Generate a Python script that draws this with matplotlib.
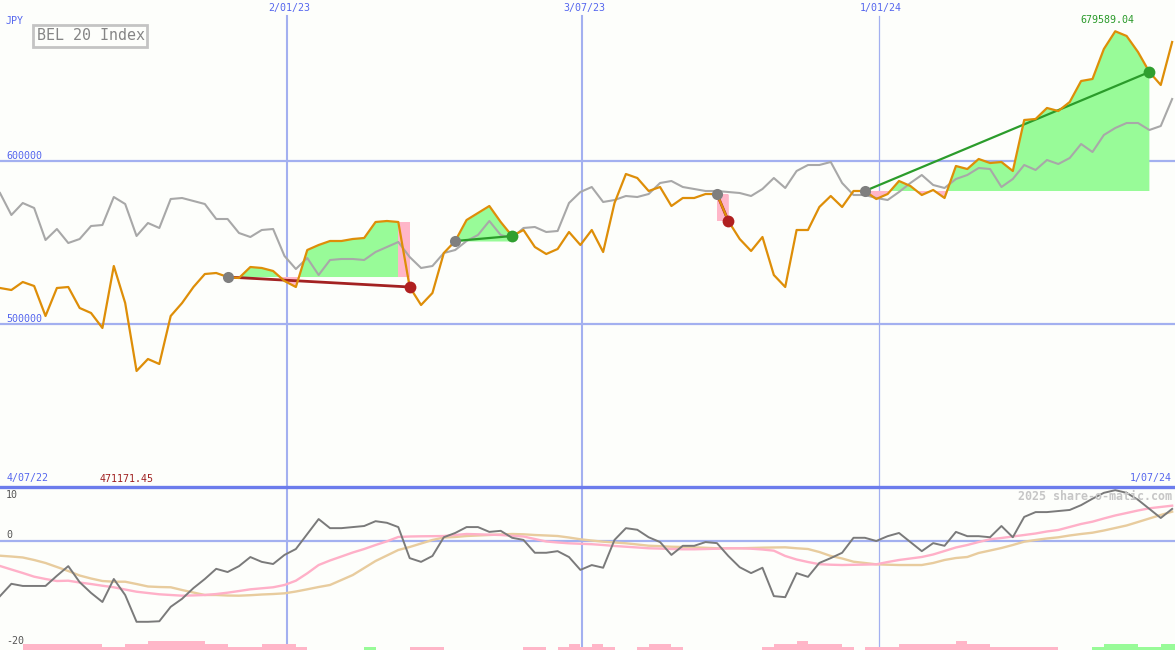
import matplotlib
matplotlib.use('Agg')
import matplotlib.pyplot as plt
from matplotlib.patches import Rectangle
import numpy as np

# ---------------- data ----------------
title = 'BEL 20 Index'
currency = 'JPY'
start_label, end_label = '4/07/22', '1/07/24'
date_labels = ['2/01/23', '3/07/23', '1/01/24']
date_pos = [25.22, 51.14, 77.24]          # week index of the date lines
price_ticks = [600000, 500000]
osc_ticks = [10, 0, -20]
min_label = '471171.45'
max_label = '679589.04'
credit = '2025 share-o-matic.com'

price = [522090, 520860, 525770, 523310, 504910, 522090, 522700, 509820, 506750, 497550,
         535580, 512880, 471171.45, 478530, 475460, 504910, 512880, 522700, 530670, 531290,
         528830, 528220, 534970, 534360, 532520, 526380, 522700, 545400, 548470, 550920,
         550920, 552150, 552760, 562580, 563190, 562580, 522700, 511660, 519020, 543560,
         550920, 563800, 568100, 572390, 562580, 553990, 557670, 547240, 542940, 546010,
         556440, 548470, 557670, 544170, 574230, 592020, 589570, 581600, 584050, 572390,
         577300, 577300, 579750, 579750, 563190, 552150, 544790, 553370, 530060, 522700,
         557670, 557670, 571780, 578530, 571780, 581600, 581600, 576690, 579750, 587730,
         584660, 579140, 582210, 577300, 596930, 595090, 601230, 598770, 599390, 593870,
         625150, 625770, 632520, 630680, 636200, 649080, 650310, 668710, 679589.04, 676690,
         666870, 654600, 646630, 673000]

compare = [580370, 566870, 574230, 571170, 551530, 558280, 549690, 552150, 560120, 560740,
           577910, 573620, 553990, 561960, 558900, 576690, 577300, 575460, 573620, 564420,
           564420, 555830, 553370, 557670, 558280, 541720, 533740, 540490, 530060, 539260,
           539880, 539880, 539260, 544170, 547240, 550310, 541100, 534360, 535580, 543560,
           545400, 550920, 554600, 563190, 554600, 552760, 558900, 559510, 556440, 557060,
           574230, 580980, 584050, 574850, 576070, 578530, 577910, 579750, 586500, 587730,
           584050, 582820, 581600, 581600, 580980, 580370, 578530, 582820, 589570, 583440,
           593870, 597550, 597550, 599390, 586500, 579140, 579140, 577300, 576070, 580980,
           586500, 591410, 585280, 583440, 588960, 591410, 595710, 595090, 584050, 588960,
           597550, 594480, 600610, 598160, 601840, 610430, 605520, 615950, 620250, 623310,
           623310, 619020, 621470, 638040]

osc = [-10.3, -8.0, -8.4, -8.4, -8.4, -6.5, -4.7, -7.7, -9.7, -11.4,
       -7.1, -10.1, -15.1, -15.1, -15.0, -12.3, -10.8, -8.8, -7.1, -5.2,
       -5.8, -4.7, -3.0, -3.9, -4.3, -2.6, -1.5, 1.3, 4.1, 2.4,
       2.4, 2.6, 2.8, 3.7, 3.4, 2.6, -3.2, -3.9, -2.8, 0.7,
       1.5, 2.6, 2.6, 1.7, 1.9, 0.6, 0.2, -2.2, -2.2, -1.9,
       -3.0, -5.4, -4.5, -5.0, 0.2, 2.4, 2.1, 0.7, -0.2, -2.6,
       -0.9, -0.9, -0.2, -0.4, -2.8, -4.9, -6.0, -5.0, -10.3, -10.5,
       -6.0, -6.7, -4.1, -3.2, -2.2, 0.6, 0.6, 0.0, 0.9, 1.5,
       -0.2, -1.9, -0.4, -0.9, 1.7, 0.9, 0.9, 0.7, 2.8, 0.7,
       4.5, 5.4, 5.4, 5.6, 5.8, 6.7, 7.9, 9.0, 9.5, 9.0,
       7.7, 6.0, 4.3, 6.0]

osc_fast = [-4.67, -5.33, -5.98, -6.67, -7.10, -7.48, -7.42, -7.76, -8.04, -8.36,
            -8.65, -9.07, -9.48, -9.72, -9.96, -10.09, -10.22, -10.17, -10.09, -9.91,
            -9.66, -9.35, -9.03, -8.84, -8.65, -8.22, -7.42, -6.04, -4.49, -3.64,
            -2.90, -2.15, -1.50, -0.75, -0.06, 0.75, 0.84, 0.88, 0.90, 0.93,
            1.12, 1.31, 1.25, 1.18, 1.12, 0.97, 0.84, 0.37, -0.09, -0.28,
            -0.43, -0.52, -0.60, -0.75, -0.93, -1.07, -1.21, -1.36, -1.42, -1.50,
            -1.55, -1.55, -1.50, -1.44, -1.36, -1.36, -1.44, -1.59, -1.81, -2.80,
            -3.46, -3.93, -4.34, -4.43, -4.49, -4.45, -4.41, -4.36, -3.93, -3.55,
            -3.27, -2.99, -2.52, -1.87, -1.21, -0.75, -0.19, 0.32, 0.56, 0.84,
            1.12, 1.40, 1.78, 2.06, 2.62, 3.18, 3.61, 4.21, 4.77, 5.23,
            5.70, 6.11, 6.36, 6.60]

osc_slow = [-2.75, -2.90, -3.08, -3.55, -4.11, -4.86, -5.61, -6.45, -7.01, -7.48,
            -7.61, -7.61, -8.04, -8.50, -8.60, -8.65, -9.16, -9.63, -10.09, -10.09,
            -10.19, -10.22, -10.13, -10.00, -9.91, -9.78, -9.44, -9.03, -8.60, -8.22,
            -7.29, -6.36, -5.05, -3.74, -2.71, -1.68, -1.12, -0.47, 0.19, 0.65,
            0.75, 0.93, 1.03, 1.12, 1.21, 1.31, 1.25, 1.12, 1.03, 0.93,
            0.65, 0.32, 0.09, -0.13, -0.28, -0.43, -0.65, -0.88, -0.97, -1.07,
            -1.12, -1.18, -1.27, -1.36, -1.36, -1.36, -1.31, -1.25, -1.21, -1.18,
            -1.36, -1.50, -2.06, -2.80, -3.27, -3.87, -4.11, -4.36, -4.43, -4.49,
            -4.49, -4.49, -4.11, -3.55, -3.18, -2.99, -2.24, -1.78, -1.31, -0.75,
            -0.13, 0.19, 0.47, 0.69, 1.03, 1.31, 1.55, 1.96, 2.43, 2.90,
            3.55, 4.21, 4.86, 5.48]

signal_bars = [0, 0, -2, -2, -2, -2, -2, -2, -2, -1,
               -1, -2, -2, -3, -3, -3, -3, -3, -2, -2,
               -1, -1, -1, -2, -2, -2, -1, 0, 0, 0,
               0, 0, 1, 0, 0, 0, -1, -1, -1, 0,
               0, 0, 0, 0, 0, 0, -1, -1, 0, -1,
               -2, -1, -2, -1, 0, 0, -1, -2, -2, -1,
               0, 0, 0, 0, 0, 0, 0, -1, -2, -2,
               -3, -2, -2, -2, -1, 0, -1, -1, -1, -2,
               -2, -2, -2, -2, -3, -2, -2, -1, -1, -1,
               -1, -1, -1, 0, 0, 0, 1, 2, 2, 2,
               1, 1, 2, 2]

trade_entries = [20, 40, 63, 76]
trade_exits = [36, 45, 64, 101]

# ---------------- styling ----------------
W, H = 1175, 650
SPLIT = 487
BG = '#fdfefb'
GRID = '#a3b0f0'
BLUE_TXT = '#5566ee'
ORANGE = '#de8e08'
GRAY = '#a8a8a8'
FILL_G = '#98fb98'
FILL_P = '#ffb6c8'
MONO = 'DejaVu Sans Mono'

fig = plt.figure(figsize=(W / 100, H / 100), dpi=100)
fig.patch.set_facecolor(BG)
ax = fig.add_axes([0, 1 - SPLIT / H, 1, SPLIT / H])
ax2 = fig.add_axes([0, 0, 1, 1 - SPLIT / H])
for a in (ax, ax2):
    a.set_facecolor(BG)
    a.set_xticks([])
    a.set_yticks([])
    for s in a.spines.values():
        s.set_visible(False)

price = np.array(price, dtype=float)
compare = np.array(compare, dtype=float)
x = np.arange(len(price))
STEP = 11.38
xmax = W / STEP
ax.set_xlim(0, xmax)
ax2.set_xlim(0, xmax)
ax.set_ylim(400000, 698774)
OSC_LO, OSC_HI = -20.37, 10.09
ax2.set_ylim(OSC_LO, OSC_HI)

# grid
for p in price_ticks:
    ax.axhline(p, color=GRID, lw=1.6, zorder=1)
for i, d in enumerate(date_pos):
    lw = 0.9 if i == 2 else 1.5
    ax.axvline(d, ymax=(SPLIT - 16) / SPLIT, color=GRID, lw=lw, zorder=1)
    ax2.axvline(d, color=GRID, lw=lw, zorder=1)
ax2.axhline(0, color=GRID, lw=1.6, zorder=1)
ax2.axhline(OSC_HI, color='#6c7cec', lw=2.4, zorder=6, clip_on=False)

# trade fills
for e, xx in zip(trade_entries, trade_exits):
    xs = x[e:xx + 1]
    ys = price[e:xx + 1]
    lvl = price[e]
    ax.fill_between(xs, ys, lvl, where=ys >= lvl, interpolate=True,
                    color=FILL_G, lw=0, zorder=2)
    ax.fill_between(xs, ys, lvl, where=ys <= lvl, interpolate=True,
                    color=FILL_P, lw=0, zorder=2)
    if price[xx] < lvl:
        prev = price[xx - 1]
        top = max(prev, lvl)
        bot = lvl if prev > lvl else price[xx]
        ax.fill_between([xx - 1, xx], [top, top], [bot, bot], color=FILL_P, lw=0, zorder=2)

# lines
ax.plot(x, compare, color=GRAY, lw=1.5, zorder=3)
ax.plot(x, price, color=ORANGE, lw=1.6, zorder=4)

for e, xx in zip(trade_entries, trade_exits):
    win = price[xx] > price[e]
    col = '#2b9c2b' if win else '#a32222'
    ax.plot([e, xx], [price[e], price[xx]], color=col, lw=1.6 if win else 2.0, zorder=3.5)
    ax.plot([e], [price[e]], 'o', color='#7f7f7f', ms=8, mew=0, zorder=6)
    ax.plot([xx], [price[xx]], 'o', color='#2f9f2f' if win else '#b02020', ms=8.5, mew=0, zorder=6)

# oscillator
ax2.plot(x, osc_slow, color='#e8cc9e', lw=1.7, zorder=3)
ax2.plot(x, osc_fast, color='#ffb0c8', lw=1.7, zorder=3)
ax2.plot(x, osc, color='#7a7a7a', lw=1.4, zorder=4)
sb = np.array(signal_bars, dtype=float)
heights = np.abs(sb) * 0.57
cols = [FILL_G if v > 0 else FILL_P for v in sb]
ax2.bar(x, heights, bottom=OSC_LO, width=1.0, align='edge', color=cols, lw=0, zorder=2)

# ---------------- text ----------------
def fx(px):
    return px / W

def fy(py):
    return 1 - py / H

def t(px, py, s, color, size=7.2, ha='left', weight='normal'):
    fig.text(fx(px), fy(py), s, color=color, fontsize=size, ha=ha, va='center',
             family=MONO, weight=weight)

t(6, 21, currency, BLUE_TXT)
t(6, 156, f'{price_ticks[0]}', BLUE_TXT)
t(6, 319, f'{price_ticks[1]}', BLUE_TXT)
for d, lab in zip(date_pos, date_labels):
    t(d * STEP + 2, 8.5, lab, BLUE_TXT, ha='center')
t(7, 478.5, start_label, BLUE_TXT)
t(100, 478.5, min_label, '#a02020')
t(1172, 478.5, end_label, BLUE_TXT, ha='right')
t(1107, 20, max_label, '#2a9a2a', ha='center')
t(1172, 496, credit, '#c6c6c6', size=8.4, ha='right', weight='bold')
t(6, 495.5, f'{osc_ticks[0]}', '#555555')
t(6, 535, f'{osc_ticks[1]}', '#555555')
t(6, 641.5, f'{osc_ticks[2]}', '#555555')

fig.add_artist(Rectangle((fx(33), fy(47)), 114 / W, 22 / H, transform=fig.transFigure,
                         fill=False, ec='#c4c4c4', lw=2))
t(37, 36, title, '#858585', size=10.8)

fig.savefig('out.png', dpi=100, facecolor=BG)
